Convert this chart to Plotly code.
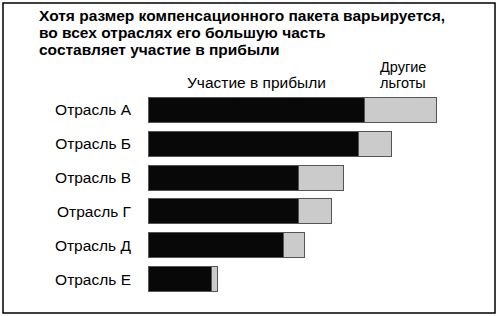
import plotly.graph_objects as go

# ---- data ----
categories = ["Отрасль А", "Отрасль Б", "Отрасль В", "Отрасль Г", "Отрасль Д", "Отрасль Е"]
profit_share = [72, 70, 50, 50, 45, 21]     # Участие в прибыли
other_benefits = [24, 11, 15, 11, 7, 2]    # Другие льготы
series_names = ["Участие в прибыли", "Другие льготы"]
title_lines = [
    "Хотя размер компенсационного пакета варьируется,",
    "во всех отраслях его большую часть",
    "составляет участие в прибыли",
]
other_label_lines = ["Другие", "льготы"]

# ---- layout geometry (pixels) ----
W, H = 500, 316
ML, MR, MT, MB = 148, 52, 93, 20
PW, PH = W - ML - MR, H - MT - MB

def px_x(px):
    return (px - ML) / PW

def px_y(py):
    return (H - MB - py) / PH

FONT = "Liberation Sans, Arial, sans-serif"

fig = go.Figure()
fig.add_trace(go.Bar(
    y=categories, x=profit_share, orientation="h", name=series_names[0],
    marker=dict(color="#080808", line=dict(color="#555555", width=1)),
))
fig.add_trace(go.Bar(
    y=categories, x=other_benefits, orientation="h", name=series_names[1],
    marker=dict(color="#cbcbcb", line=dict(color="#555555", width=1)),
))

annotations = []
for i, line in enumerate(title_lines):
    annotations.append(dict(
        text=line, xref="paper", yref="paper", x=px_x(37), y=px_y(16 + 17 * i),
        xanchor="left", yanchor="middle", showarrow=False,
        font=dict(family=FONT, size=15.5, color="black", weight="bold"),
    ))
annotations.append(dict(
    text=series_names[0], xref="x", yref="paper",
    x=profit_share[0] / 2, y=px_y(82.3),
    xanchor="center", yanchor="middle", showarrow=False,
    font=dict(family=FONT, size=15.5, color="black"),
))
for i, line in enumerate(other_label_lines):
    annotations.append(dict(
        text=line, xref="x", yref="paper",
        x=profit_share[0] + other_benefits[0] / 2 + 1, y=px_y(66.5 + 16.5 * i),
        xanchor="center", yanchor="middle", showarrow=False,
        font=dict(family=FONT, size=14.5, color="black"),
    ))

fig.update_layout(
    width=W, height=H, barmode="stack", bargap=0.26, showlegend=False,
    margin=dict(l=ML, r=MR, t=MT, b=MB, pad=0),
    paper_bgcolor="white", plot_bgcolor="white",
    font=dict(family=FONT, color="black"),
    xaxis=dict(range=[0, 100], visible=False, fixedrange=True),
    yaxis=dict(autorange="reversed", showgrid=False, zeroline=False, showline=False,
               ticks="", ticklabelstandoff=16, tickfont=dict(size=15.5, color="black"),
               fixedrange=True),
    annotations=annotations,
    shapes=[dict(type="rect", xref="paper", yref="paper",
                 x0=px_x(3), x1=px_x(495), y0=px_y(313), y1=px_y(3),
                 line=dict(color="black", width=1.5), fillcolor="rgba(0,0,0,0)",
                 layer="above")],
)

fig.write_html("out.html", config={"displayModeBar": False})
